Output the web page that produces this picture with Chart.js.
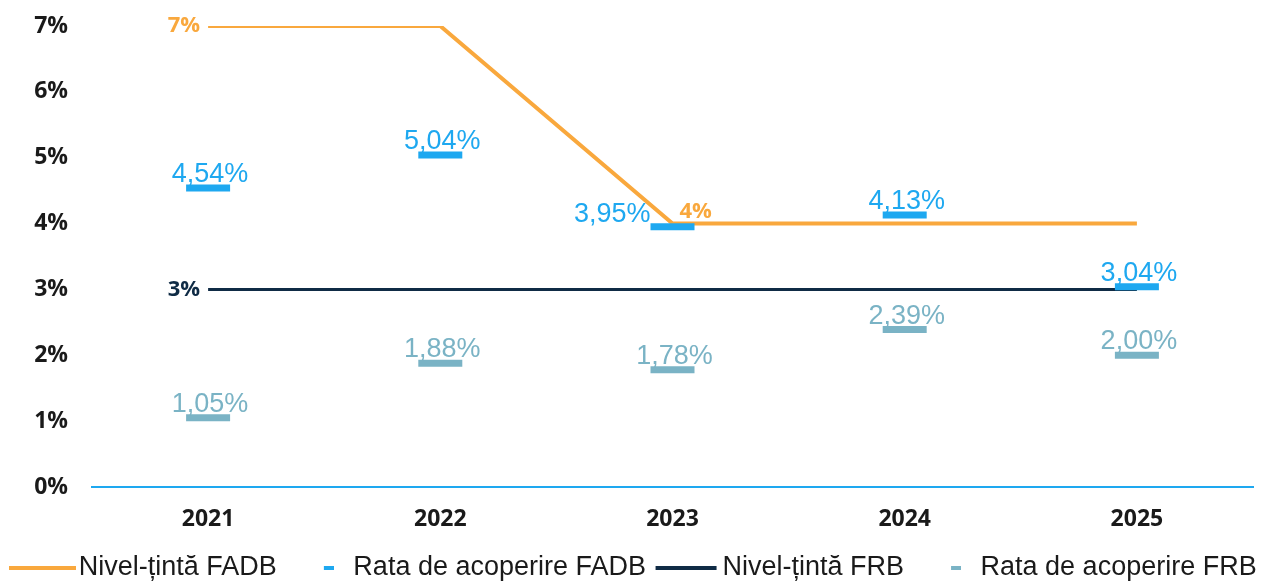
<!DOCTYPE html>
<html>
<head>
<meta charset="utf-8">
<script src="https://cdn.jsdelivr.net/npm/chart.js@4.4.1/dist/chart.umd.min.js"></script>
<style>
    html, body { margin: 0; padding: 0; background: #fff; }
</style>
</head>
<body>
<canvas id="chart" width="1276" height="583"></canvas>
<script>
var years = ['2021', '2022', '2023', '2024', '2025'];
var targetFADB = [7, 7, 4, 4, 4];
var rateFADB = [4.54, 5.04, 3.95, 4.13, 3.04];
var targetFRB = [3, 3, 3, 3, 3];
var rateFRB = [1.05, 1.88, 1.78, 2.39, 2.00];
var seriesNames = ['Nivel-țintă FADB', 'Rata de acoperire FADB', 'Nivel-țintă FRB', 'Rata de acoperire FRB'];

var ORANGE = '#F9A83D';
var BLUE = '#1EA8F0';
var NAVY = '#0F2B45';
var TEAL = '#7AB3C5';

// legend swatches (line = long, dash = short and pushed right)
function swatch(color, w, from, to, h) {
    var c = document.createElement('canvas');
    c.width = w;
    c.height = h;
    var g = c.getContext('2d');
    g.fillStyle = color;
    g.fillRect(from, 0, to - from, h);
    return c;
}
var swatches = [
    swatch(ORANGE, 67, 0, 67, 4),
    swatch(BLUE, 34, 24, 34, 4),
    swatch(NAVY, 67, 3, 64, 4),
    swatch(TEAL, 34, 24, 34, 4)
];

function fmtRate(v) {
    return v.toFixed(2).replace('.', ',') + '%';
}

// value labels next to the points
var valueLabels = {
    id: 'valueLabels',
    afterLayout: function(chart) {
        // push legend row a bit lower
        chart.legend.top += 8;
        chart.legend.bottom += 8;
    },
    afterDatasetsDraw: function(chart) {
        var ctx = chart.ctx;
        ctx.save();
        chart.data.datasets.forEach(function(ds, i) {
            if (!ds.labelAt) return;
            var meta = chart.getDatasetMeta(i);
            meta.data.forEach(function(pt, j) {
                var where = ds.labelAt[j];
                if (!where) return;
                var v = ds.data[j];
                ctx.fillStyle = ds.borderColor;
                if (ds.showLine === false) {
                    ctx.font = '27px "Liberation Sans", Arial, sans-serif';
                    ctx.textBaseline = 'alphabetic';
                    if (where == 'left') {
                        ctx.textAlign = 'right';
                        ctx.fillText(fmtRate(v), pt.x - 22, pt.y - 5);
                    } else {
                        ctx.textAlign = 'center';
                        ctx.fillText(fmtRate(v), pt.x + 2, pt.y - 6);
                    }
                } else {
                    ctx.font = 'bold 22px "Open Sans", sans-serif';
                    if (where == 'left') {
                        ctx.textAlign = 'right';
                        ctx.textBaseline = 'middle';
                        ctx.fillText(v + '%', pt.x - 8, pt.y);
                    } else {
                        ctx.textAlign = 'left';
                        ctx.textBaseline = 'alphabetic';
                        ctx.fillText(v + '%', pt.x + 7, pt.y - 6);
                    }
                }
            });
        });
        ctx.restore();
    }
};

var ctx = document.getElementById('chart').getContext('2d');
var chart = new Chart(ctx, {
    type: 'line',
    data: {
        labels: years,
        datasets: [
            {
                label: seriesNames[0],
                data: targetFADB,
                borderColor: ORANGE,
                backgroundColor: ORANGE,
                borderWidth: 4,
                pointRadius: 0,
                tension: 0,
                order: 2,
                labelAt: ['left', null, 'right', null, null]
            },
            {
                label: seriesNames[1],
                data: rateFADB,
                borderColor: BLUE,
                backgroundColor: BLUE,
                showLine: false,
                pointStyle: 'line',
                pointRadius: 22,
                pointBorderWidth: 7,
                pointHoverRadius: 22,
                order: 0,
                labelAt: ['above', 'above', 'left', 'above', 'above']
            },
            {
                label: seriesNames[2],
                data: targetFRB,
                borderColor: NAVY,
                backgroundColor: NAVY,
                borderWidth: 3,
                pointRadius: 0,
                tension: 0,
                order: 3,
                labelAt: ['left', null, null, null, null]
            },
            {
                label: seriesNames[3],
                data: rateFRB,
                borderColor: TEAL,
                backgroundColor: TEAL,
                showLine: false,
                pointStyle: 'line',
                pointRadius: 22,
                pointBorderWidth: 7,
                pointHoverRadius: 22,
                order: 1,
                labelAt: ['above', 'above', 'above', 'above', 'above']
            }
        ]
    },
    options: {
        responsive: false,
        animation: false,
        layout: {
            autoPadding: false,
            padding: { left: 0, right: 0, top: 26, bottom: 0 }
        },
        plugins: {
            tooltip: { enabled: false },
            legend: {
                position: 'bottom',
                labels: {
                    usePointStyle: true,
                    pointStyleWidth: 46,
                    padding: 17,
                    color: '#1a1a1a',
                    font: { family: '"Liberation Sans", Arial, sans-serif', size: 27 },
                    generateLabels: function(chart) {
                        return chart.data.datasets.map(function(ds, i) {
                            return {
                                text: ds.label,
                                pointStyle: swatches[i],
                                fillStyle: ds.borderColor,
                                strokeStyle: ds.borderColor,
                                lineWidth: 0,
                                fontColor: '#1a1a1a',
                                datasetIndex: i
                            };
                        });
                    }
                }
            }
        },
        scales: {
            x: {
                offset: true,
                grid: { display: false, drawTicks: false },
                border: { display: true, color: BLUE, width: 2 },
                ticks: {
                    padding: 19,
                    color: '#1a1a1a',
                    font: { family: '"Open Sans", sans-serif', size: 23, weight: 'bold' }
                },
                afterFit: function(scale) {
                    scale.height = 42;
                }
            },
            y: {
                min: 0,
                max: 7,
                grid: { display: false, drawTicks: false },
                border: { display: false },
                ticks: {
                    stepSize: 1,
                    padding: 24,
                    color: '#1a1a1a',
                    font: { family: '"Open Sans", sans-serif', size: 23, weight: 'bold' },
                    callback: function(v) { return v + '%'; }
                },
                afterFit: function(scale) {
                    scale.width = 92;
                    // tick padding should not push the plot down
                    scale.paddingTop = 12;
                    scale.paddingBottom = 12;
                }
            },
            // empty right margin
            yRight: {
                position: 'right',
                min: 0,
                max: 7,
                grid: { display: false, drawTicks: false },
                border: { display: false },
                ticks: { display: false },
                afterFit: function(scale) {
                    scale.width = 23;
                }
            }
        }
    },
    plugins: [valueLabels]
});
</script>
</body>
</html>
